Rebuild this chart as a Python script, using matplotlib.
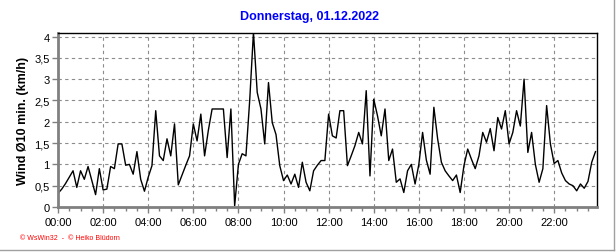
import matplotlib
matplotlib.use("Agg")
import matplotlib.pyplot as plt
from matplotlib.ticker import MultipleLocator, FuncFormatter
from matplotlib.lines import Line2D

# 10-minute wind averages (km/h), 00:00 .. 23:50
wind = [
    0.32, 0.42, 0.55, 0.70, 0.85, 0.46, 0.85, 0.65, 0.95, 0.62, 0.29, 0.90,
    0.40, 0.42, 0.95, 0.90, 1.48, 1.48, 0.98, 1.00, 0.77, 1.30, 0.65, 0.37,
    0.70, 0.97, 2.26, 1.20, 1.09, 1.60, 1.20, 1.95, 0.52, 0.75, 0.98, 1.20,
    1.95, 1.55, 2.18, 1.20, 1.80, 2.30, 2.30, 2.30, 2.30, 1.16, 2.30, 0.03,
    1.00, 1.25, 1.20, 2.50, 4.10, 2.69, 2.30, 1.48, 2.92, 1.98, 1.70, 0.97,
    0.62, 0.75, 0.54, 0.77, 0.46, 1.05, 0.58, 0.38, 0.85, 0.98, 1.09, 1.09,
    2.18, 1.67, 1.62, 2.26, 2.26, 0.97, 1.20, 1.44, 1.75, 1.48, 2.73, 0.73,
    2.53, 2.14, 1.67, 2.30, 1.09, 1.36, 0.58, 0.66, 0.34, 0.85, 1.00, 0.54,
    1.00, 1.75, 1.10, 0.77, 2.34, 1.60, 1.05, 0.85, 0.73, 0.62, 0.75, 0.34,
    0.97, 1.36, 1.12, 0.90, 1.20, 1.75, 1.52, 1.84, 1.32, 2.10, 1.83, 2.26,
    1.48, 1.75, 2.26, 1.90, 3.00, 1.28, 1.75, 1.00, 0.58, 0.90, 2.38, 1.48,
    1.02, 1.09, 0.80, 0.62, 0.54, 0.50, 0.38, 0.54, 0.44, 0.60, 1.05, 1.30,
]
hours = [i / 6 for i in range(len(wind))]
x_labels = ["00:00", "02:00", "04:00", "06:00", "08:00", "10:00",
            "12:00", "14:00", "16:00", "18:00", "20:00", "22:00"]

plt.rcParams['font.family'] = ['Liberation Sans', 'DejaVu Sans']

fig = plt.figure(figsize=(6.16, 2.53), dpi=100)
ax = fig.add_axes([58 / 616, 1 - 208 / 253, 539 / 616, 174.3 / 253])

ax.plot(hours, wind, color='black', linewidth=1.0)

ax.set_xlim(0, 23.9)
ax.set_ylim(0, 4.09)

ax.set_xticks(range(0, 24, 2))
ax.set_xticklabels(x_labels)
ax.xaxis.set_minor_locator(MultipleLocator(0.5))
ax.yaxis.set_major_locator(MultipleLocator(0.5))
ax.yaxis.set_major_formatter(FuncFormatter(lambda v, p: f"{v:g}".replace('.', ',')))

ax.grid(True, color='#8c8c8c', linestyle=(0, (3, 3)), linewidth=0.8)
ax.tick_params(axis='both', colors='#808080', labelcolor='black', labelsize=8,
               length=4, width=1, direction='out')
ax.tick_params(axis='x', which='minor', colors='#808080', length=3, width=1)
ax.tick_params(axis='x', pad=3)
ax.tick_params(axis='y', pad=2)

for side in ('left', 'bottom'):
    ax.spines[side].set_color('#808080')
    ax.spines[side].set_linewidth(2.0)
for side in ('top', 'right'):
    ax.spines[side].set_color('black')
    ax.spines[side].set_linewidth(1.0)

ax.set_ylabel('Wind Ø10 min. (km/h)', fontsize=9, fontweight='bold', labelpad=4)
fig.text(309 / 616, 1 - 17 / 253, 'Donnerstag, 01.12.2022',
         color='#0000ff', fontsize=9, fontweight='bold', ha='center', va='center')
fig.text(20 / 616, 1 - 239 / 253, '© WsWin32  -  © Heiko Blüdorn',
         color='red', fontsize=5, ha='left', va='center')

# outer frame lines (right and bottom)
fig.add_artist(Line2D([613.5 / 616, 613.5 / 616], [1 - 250.5 / 253, 1], color='#a0a0a0', linewidth=1))
fig.add_artist(Line2D([0, 613.5 / 616], [1 - 250.5 / 253, 1 - 250.5 / 253], color='#a0a0a0', linewidth=1))

fig.savefig('out.png', dpi=100)
